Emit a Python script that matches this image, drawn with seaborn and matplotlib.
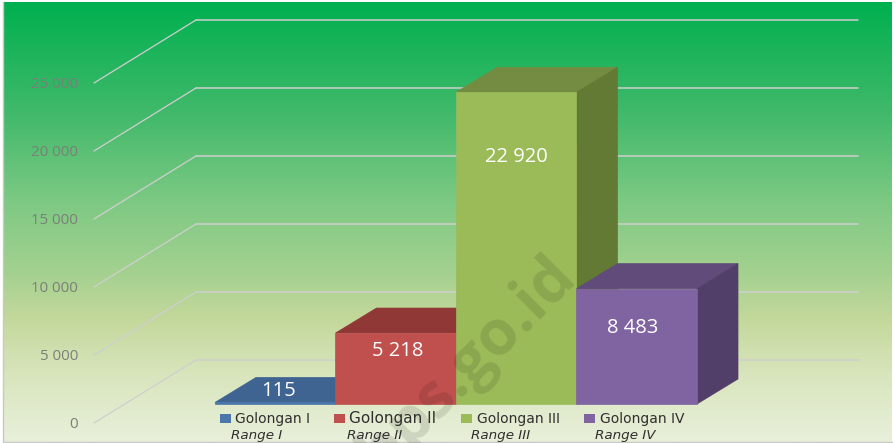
import numpy as np
import matplotlib
matplotlib.use("Agg")
import matplotlib.pyplot as plt
from matplotlib.colors import LinearSegmentedColormap
from matplotlib.patches import Polygon, Rectangle
import seaborn as sns

categories = ["Golongan I", "Golongan II", "Golongan III", "Golongan IV"]
ranges = ["Range I", "Range II", "Range III", "Range IV"]
values = [115, 5218, 22920, 8483]
value_labels = ["115", "5 218", "22 920", "8 483"]
grid_values = [0, 5000, 10000, 15000, 20000, 25000]
grid_labels = ["0", "5 000", "10 000", "15 000", "20 000", "25 000"]

front_colors = ["#4A76AB", "#C0504D", "#9BBB59", "#8064A2"]
top_colors = ["#3F6492", "#8F3836", "#748C42", "#614B7B"]
side_colors = ["#365680", "#7E302E", "#637A35", "#523F69"]

W, H = 894, 443
BASE_Y = 404      # pixel row of value 0 on the bar front
BAR_LEFT = 215    # pixel column of first bar
BAR_W = 120.5     # pixels per category
PX_PER_VAL = 340 / 25000

# pixel <-> data helpers, axes cover the whole figure
def X(px):
    return (px - BAR_LEFT) / BAR_W - 0.5

def Yoff(px):
    return px / PX_PER_VAL

sns.set_style("white")
fig = plt.figure(figsize=(W / 100, H / 100), dpi=100)

# background gradient
bg = fig.add_axes([0, 0, 1, 1])
bg.axis("off")
cmap = LinearSegmentedColormap.from_list("bg", [
    (0.0, "#00B050"), (0.25, "#40B96A"), (0.45, "#7CC983"),
    (0.62, "#A5D190"), (0.72, "#C3D89B"), (0.85, "#D9E5BD"), (1.0, "#E8F0DA")])
bg.imshow(np.linspace(0, 1, 256).reshape(-1, 1), cmap=cmap, aspect="auto",
          extent=[3 / W, 892 / W, (H - 442) / H, (H - 2) / H], zorder=0)
bg.plot([3 / W, 3 / W, 892 / W], [(H - 2) / H, (H - 442) / H, (H - 442) / H],
        color="#C8C8C8", lw=1, zorder=1)
bg.set_xlim(0, 1)
bg.set_ylim(0, 1)

ax = fig.add_axes([0, 0, 1, 1])
ax.patch.set_alpha(0)
sns.barplot(x=categories, y=values, hue=categories, palette=front_colors,
            width=1, dodge=False, legend=False, saturation=1, ax=ax)
ax.set_xlim(X(0), X(W))
ax.set_ylim(Yoff(BASE_Y - H), Yoff(BASE_Y))
ax.axis("off")

# gridlines on floor/wall
for v, lab in zip(grid_values, grid_labels):
    ax.plot([X(94), X(196)], [v - Yoff(19), v + Yoff(44)], color="#CFCFCF", lw=0.9, zorder=1)
    ax.plot([X(196), X(858)], [v + Yoff(44), v + Yoff(44)], color="#CFCFCF", lw=1.1, zorder=1)
    ax.text(X(78), v - Yoff(20.5), lab, ha="right", va="center", fontsize=10.8,
            color="#7A7F78", family="Open Sans", zorder=1)

# 3d faces
dx = 41 / BAR_W
dy = Yoff(25)
bars = [p for p in ax.patches if isinstance(p, Rectangle)]
bars = sorted(bars, key=lambda p: p.get_x())
for i, bar in enumerate(bars):
    x0 = bar.get_x()
    x1 = x0 + bar.get_width()
    top = bar.get_height()
    z = 3 + i
    bar.set_zorder(z + 0.2)
    bar.set_edgecolor(front_colors[i])
    bar.set_linewidth(0.5)
    ax.add_patch(Polygon([(x0, top), (x1, top), (x1 + dx, top + dy), (x0 + dx, top + dy)],
                         facecolor=top_colors[i], edgecolor=top_colors[i], lw=0.5, zorder=z))
    ax.add_patch(Polygon([(x1, 0), (x1 + dx, dy), (x1 + dx, top + dy), (x1, top)],
                         facecolor=side_colors[i], edgecolor=side_colors[i], lw=0.5, zorder=z))

# value labels
label_y = [Yoff(13), values[1] - Yoff(18), values[2] - Yoff(65), values[3] - Yoff(39)]
label_x = [0.03, 1.02, 2.0, 2.97]
for xp, yp, lab in zip(label_x, label_y, value_labels):
    ax.text(xp, yp, lab, ha="center", va="center", color="white", fontsize=14.5,
            family="Open Sans", zorder=10)

# legend by hand, two line entries
sq_px = [220, 334, 461, 584]
txt_px = [235, 349, 477, 600]
rng_px = [231, 347, 471, 595]
leg_sizes = [10, 11, 10, 10]
for i in range(4):
    ax.add_patch(Rectangle((X(sq_px[i]), Yoff(BASE_Y - 423)), 11 / BAR_W, Yoff(9),
                           facecolor=front_colors[i], edgecolor="none", zorder=11))
    ax.text(X(txt_px[i]), Yoff(BASE_Y - 419), categories[i], ha="left", va="center",
            fontsize=leg_sizes[i], color="#2F2F2F", family="DejaVu Sans", zorder=11)
    ax.text(X(rng_px[i]), Yoff(BASE_Y - 435), ranges[i], ha="left", va="center",
            fontsize=9.7, style="italic", color="#2F2F2F", family="DejaVu Sans", zorder=11)

# watermark
ax.text(X(467), Yoff(BASE_Y - 364), "bps.go.id", rotation=45, rotation_mode="anchor",
        ha="center", va="center", fontsize=45, fontweight="bold", family="Open Sans",
        color="black", alpha=0.11, zorder=9, clip_on=True)

fig.savefig("out.png", dpi=100)
